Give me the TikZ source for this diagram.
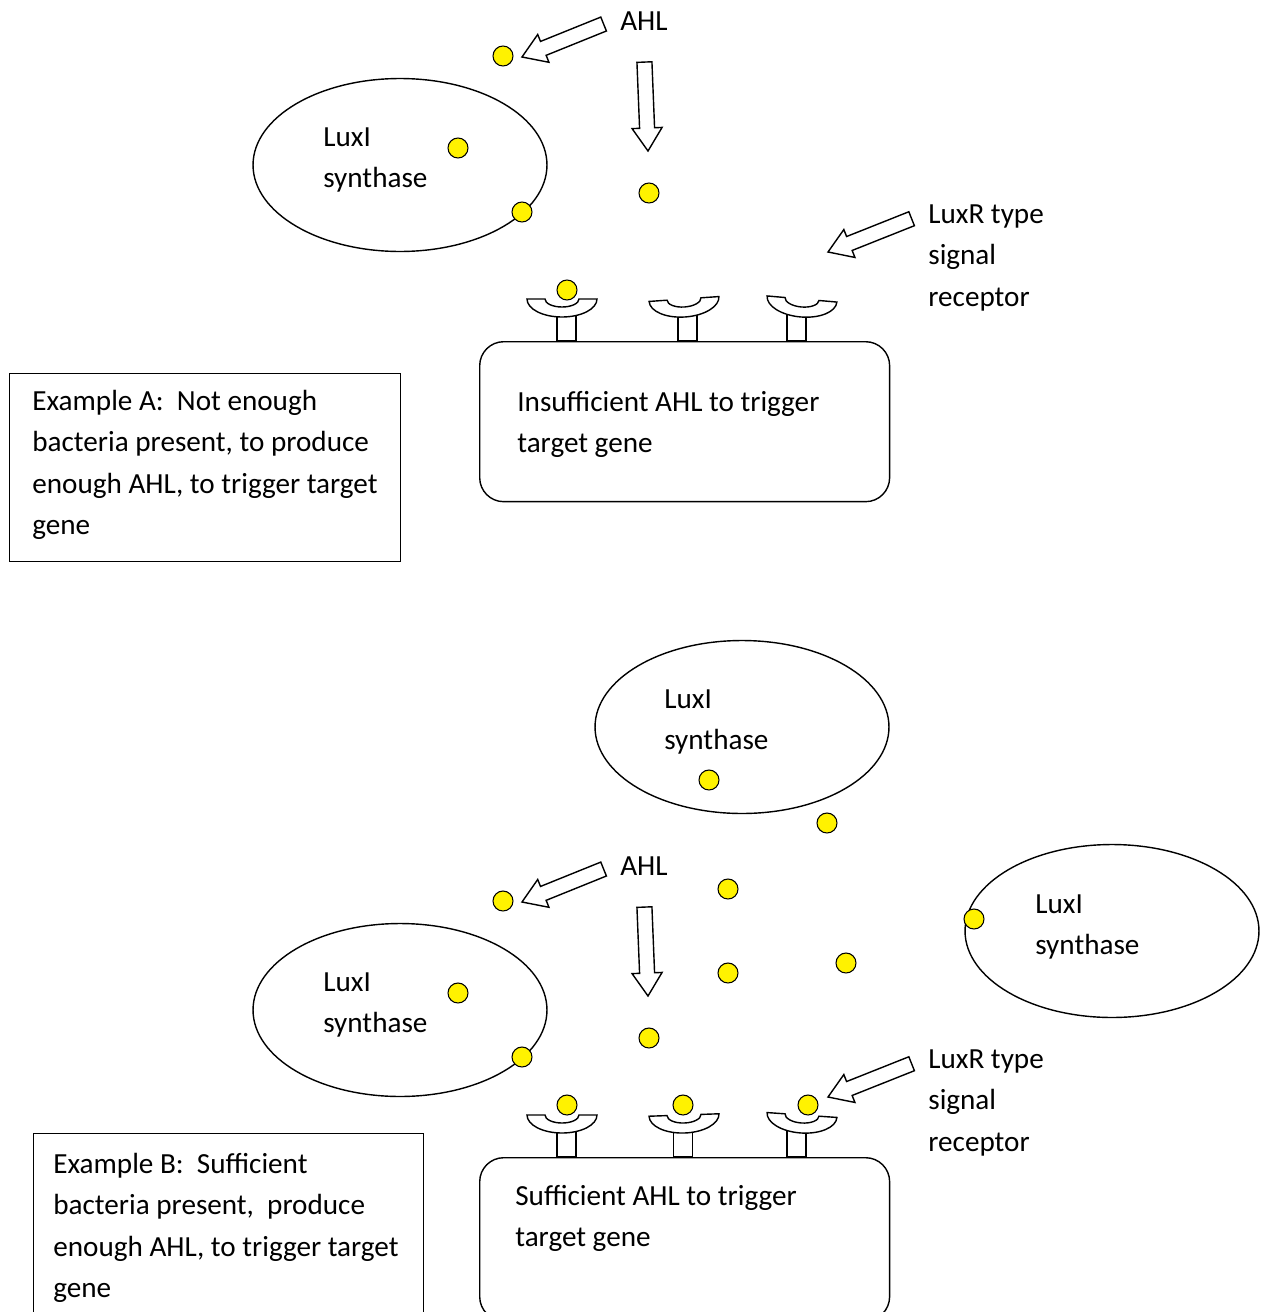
\documentclass[tikz,border=0pt]{standalone}
\usepackage{fontspec}
\setmainfont{Carlito}
\usetikzlibrary{shapes.geometric}

\begin{document}
\begin{tikzpicture}[x=0.02cm,y=-0.02cm,
  outline/.style={line width=0.8pt},
  cell/.style={draw,ellipse,outline,minimum width=5.88cm,minimum height=3.46cm,inner sep=0},
  dot/.style={draw,circle,fill=yellow,line width=0.6pt,minimum size=0.4cm,inner sep=0},
  txt/.style={anchor=base west,align=left,inner sep=0,font=\fontsize{16.6}{23.5}\selectfont},
  ]

\useasboundingbox (0,0) rectangle (1265,1312);
\clip (0,0) rectangle (1265,1312);

\node[cell] (cellA) at (400,165) {};
\node[cell] (cellB) at (400,1010) {};
\node[cell] (cellC) at (742,727) {};
\node[cell] (cellD) at (1112,931) {};

\node[draw,outline,anchor=north west,minimum width=7.82cm,minimum height=3.76cm] (exA) at (9,373) {};
\node[draw,outline,anchor=north west,minimum width=7.8cm,minimum height=3.8cm] (exB) at (33,1133) {};
\node[draw,outline,rounded corners=0.48cm,anchor=north west,minimum width=8.2cm,minimum height=3.2cm] (geneA) at (479,341) {};
\node[draw,outline,rounded corners=0.48cm,anchor=north west,minimum width=8.2cm,minimum height=3.26cm] (geneB) at (479,1157) {};

\foreach \i in {0,845}
{
\coordinate (ahl\i) at (522,57+\i) ;
\coordinate (down\i) at (648,151+\i) ;
\coordinate (luxr\i) at (828,252+\i) ;
}

\foreach \tip/\ang/\len in {ahl0/22/88, down0/92.3/89, luxr0/21.7/90, ahl845/22/88, down845/92.3/89, luxr845/21.7/90}
{
\draw[outline,shift={(\tip)},rotate=\ang] (0,0) -- (23,15) -- (23,7.5) -- (\len,7.5) -- (\len,-7.5) -- (23,-7.5) -- (23,-15) -- cycle;
}

\foreach \cx/\sx/\ty/\ang in {562/566.5/299/0, 684/687.5/299/4, 802/796.5/299/-5, 562/566.5/1115/0, 684/683/1115/2, 802/796.5/1115/-4}
{
\draw[outline] ({\sx-9.5},{\ty+10}) rectangle ({\sx+9.5},{\ty+42});
\draw[outline,fill=white,shift={(\cx,\ty)},x=0.02cm,y=0.02cm,rotate=\ang] (-35,0) -- (-17,0) arc[start angle=180,end angle=360,x radius=17,y radius=8] -- (35,0) arc[start angle=0,end angle=-180,x radius=35,y radius=18] -- cycle;
}

\node[txt] (ahlA) at (620,30) {AHL};
\node[txt] (ahlB) at (620,875) {AHL};
\node[txt] (luxA) at (323,187.5) {LuxI\\synthase};
\node[txt] (luxB) at (323,1032.5) {LuxI\\synthase};
\node[txt] (luxC) at (664,749.5) {LuxI\\synthase};
\node[txt] (luxD) at (1035,954.5) {LuxI\\synthase};
\node[txt] (recA) at (928,306) {LuxR type\\signal\\receptor};
\node[txt] (recB) at (928,1151) {LuxR type\\signal\\receptor};
\node[txt] (geneAtxt) at (517,452.5) {Insufficient AHL to trigger\\target gene};
\node[txt] (geneBtxt) at (515,1246.5) {Sufficient AHL to trigger\\target gene};
\node[txt] (exAtxt) at (32,534.5) {Example A:~ Not enough\\bacteria present, to produce\\enough AHL, to trigger target\\gene};
\node[txt] (exBtxt) at (53,1297.5) {Example B:~ Sufficient\\bacteria present,~ produce\\enough AHL, to trigger target\\gene};

\foreach \n/\x/\y in {a1/503/56, a2/458/148, a3/522/212, a4/649/193, a5/567/290,
  b1/709/780, b2/827/823, b3/728/889, b4/728/973, b5/846/963, b6/974/919, b7/503/901,
  b8/458/993, b9/522/1057, b10/649/1038, b11/567/1105, b12/683/1105, b13/808/1105}
{
\node[dot] (\n) at (\x,\y) {};
}
\end{tikzpicture}
\end{document}
